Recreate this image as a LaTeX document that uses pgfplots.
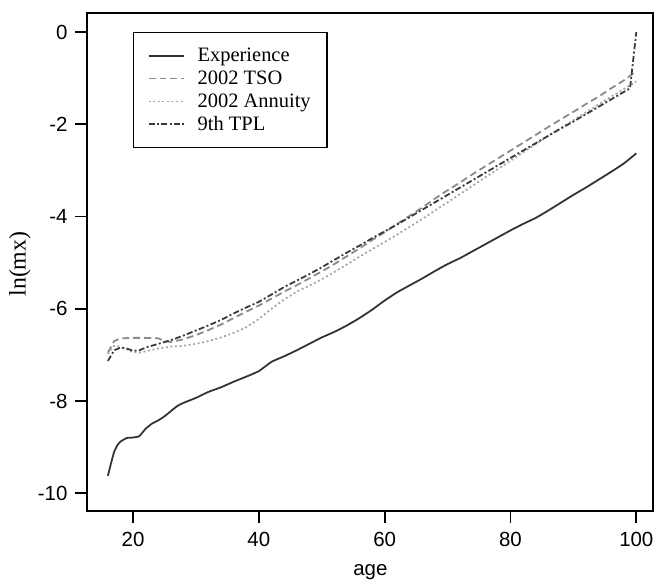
\documentclass[border=0pt]{standalone}
\usepackage{fontspec}
\setmainfont{Liberation Serif}
\setsansfont{Liberation Sans}
\usepackage{pgfplots}
\pgfplotsset{compat=1.18}

\definecolor{expcol}{HTML}{333333}
\definecolor{tsocol}{HTML}{8A8A8A}
\definecolor{anncol}{HTML}{A8A8A8}
\definecolor{tplcol}{HTML}{3A3A3A}

\pgfplotstableread{
age  y
16  -9.62
16.5 -9.35
17  -9.10
17.5 -8.96
18  -8.88
19  -8.80
20  -8.79
21  -8.76
22  -8.60
23  -8.49
24  -8.42
25  -8.33
26  -8.22
27  -8.11
28  -8.04
30  -7.93
32  -7.80
34  -7.70
36  -7.58
38  -7.47
40  -7.35
42  -7.15
44  -7.03
46  -6.90
48  -6.76
50  -6.62
52  -6.50
54  -6.36
56  -6.20
58  -6.02
60  -5.82
62  -5.64
64  -5.49
66  -5.34
68  -5.18
70  -5.03
72  -4.90
74  -4.75
76  -4.60
78  -4.45
80  -4.30
82  -4.16
84  -4.03
86  -3.87
88  -3.70
90  -3.53
92  -3.37
94  -3.20
96  -3.03
98  -2.85
100 -2.63
}\experience

\pgfplotstableread{
age  y
16  -6.95
17  -6.70
18  -6.64
20  -6.63
22  -6.63
24  -6.64
25  -6.70
26  -6.72
28  -6.66
30  -6.57
32  -6.46
34  -6.34
36  -6.20
38  -6.06
40  -5.93
42  -5.78
44  -5.63
46  -5.49
48  -5.34
50  -5.19
52  -5.03
54  -4.86
56  -4.69
58  -4.51
60  -4.34
62  -4.16
64  -3.98
66  -3.80
68  -3.61
70  -3.43
72  -3.26
74  -3.08
76  -2.91
78  -2.74
80  -2.57
82  -2.40
84  -2.23
86  -2.06
88  -1.89
90  -1.73
92  -1.56
94  -1.40
96  -1.22
98  -1.05
100 -0.85
}\tso

\pgfplotstableread{
age  y
16  -6.98
17  -6.80
18  -6.82
19  -6.88
20  -6.94
21  -6.95
22  -6.92
24  -6.86
26  -6.82
28  -6.80
30  -6.76
32  -6.70
34  -6.62
36  -6.52
38  -6.40
40  -6.22
42  -6.00
44  -5.80
46  -5.63
48  -5.50
50  -5.36
52  -5.20
54  -5.04
56  -4.87
58  -4.71
60  -4.55
62  -4.39
64  -4.22
66  -4.05
68  -3.87
70  -3.69
72  -3.51
74  -3.33
76  -3.15
78  -2.97
80  -2.79
82  -2.61
84  -2.43
86  -2.25
88  -2.08
90  -1.91
92  -1.74
94  -1.57
96  -1.40
98  -1.24
100 -1.07
}\annuity

\pgfplotstableread{
age  y
16  -7.13
17  -6.90
18  -6.84
19  -6.86
20  -6.91
21  -6.90
22  -6.84
24  -6.76
26  -6.68
28  -6.58
30  -6.47
32  -6.36
34  -6.24
36  -6.10
38  -5.97
40  -5.85
42  -5.69
44  -5.53
46  -5.39
48  -5.25
50  -5.10
52  -4.94
54  -4.78
56  -4.63
58  -4.47
60  -4.32
62  -4.17
64  -4.01
66  -3.85
68  -3.69
70  -3.53
72  -3.37
74  -3.21
76  -3.05
78  -2.89
80  -2.73
82  -2.57
84  -2.41
86  -2.25
88  -2.09
90  -1.94
92  -1.78
94  -1.62
96  -1.46
98  -1.30
99  -1.22
100  0.00
}\tpl

\begin{document}
\begin{tikzpicture}
  \begin{axis}[
    scale only axis,
    width=285pt, height=251pt,
    xmin=12.74, xmax=102.7,
    ymin=-10.39, ymax=0.415,
    xtick={20,40,60,80,100},
    ytick={-10,-8,-6,-4,-2,0},
    tick align=outside,
    major tick length=6pt,
    tick style={black, line width=0.9pt},
    axis line style={black, line width=1pt},
    xtick pos=bottom, ytick pos=left,
    minor tick num=0,
    /pgf/number format/assume math mode=true,
    ticklabel style={font=\sffamily\fontsize{10.3}{12}\selectfont},
    xticklabel style={yshift=-1pt},
    yticklabel style={xshift=-0.5pt},
    xlabel={\sffamily\fontsize{10.3}{12}\selectfont age},
    xlabel style={at={(axis description cs:0.5,0)}, anchor=center, yshift=-30.5pt},
    ylabel={\fontsize{12}{14}\selectfont ln(mx)},
    ylabel style={at={(axis description cs:0,0.496)}, anchor=center, yshift=34pt},
    legend cell align=left,
    legend style={
      at={(0.081,0.962)}, anchor=north west,
      draw=black, line width=0.6pt,
      font=\fontsize{10.3}{12}\selectfont,
      inner xsep=7pt, inner ysep=6pt,
      row sep=0pt,
      nodes={inner sep=1.25pt, text height=7.5pt, text depth=1.5pt},
    },
    legend image code/.code={%
      \draw[#1] (0pt,0pt) -- (18pt,0pt);
      \path (23pt,0pt);
    },
  ]
    \addplot[expcol, line width=0.9pt, no marks, smooth, tension=0.3] table[x=age,y=y] {\experience};
    \addlegendentry{Experience}
    \addplot[tsocol, line width=0.9pt, no marks, dash pattern=on 3.5pt off 2pt] table[x=age,y=y] {\tso};
    \addlegendentry{2002 TSO}
    \addplot[anncol, line width=0.9pt, no marks, dash pattern=on 1pt off 1.3pt] table[x=age,y=y] {\annuity};
    \addlegendentry{2002 Annuity}
    \addplot[tplcol, line width=0.9pt, no marks, dash pattern=on 3pt off 1.2pt on 1pt off 1.2pt] table[x=age,y=y] {\tpl};
    \addlegendentry{9th TPL}
  \end{axis}
  \useasboundingbox ([xshift=-44pt,yshift=-32pt]current axis.south west) rectangle ([xshift=1pt,yshift=6.5pt]current axis.north east);
\end{tikzpicture}
\end{document}
